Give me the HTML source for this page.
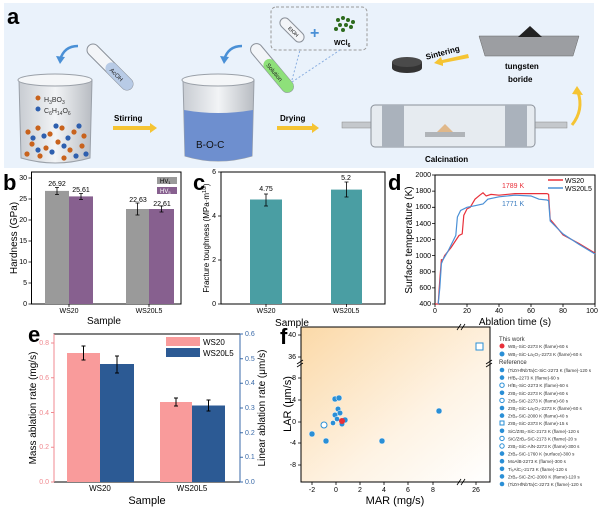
<!DOCTYPE html><html><head><meta charset="utf-8"><style>body{margin:0;background:#fff}svg{display:block;font-family:"Liberation Sans",sans-serif}</style></head><body>
<svg width="600" height="510" viewBox="0 0 600 510" xmlns="http://www.w3.org/2000/svg">
<defs>
<linearGradient id="fg" x1="0" y1="0" x2="1" y2="1"><stop offset="0" stop-color="#fbd9a8"/><stop offset="0.6" stop-color="#fef3e4"/><stop offset="1" stop-color="#fff"/></linearGradient>
<linearGradient id="gl" x1="0" x2="1"><stop offset="0" stop-color="#c8ccd2"/><stop offset="0.5" stop-color="#f2f4f6"/><stop offset="1" stop-color="#b8bcc2"/></linearGradient>
</defs>
<!-- panel a -->
<rect x="4" y="3" width="590" height="165" fill="#eaf2fb"/>
<text x="7" y="24" font-size="22" font-weight="bold">a</text>
<!-- beaker 1 -->
<path d="M19 80 L92 80 L90 158 Q55 168 21 158 Z" fill="url(#gl)" stroke="#9aa0a8"/>
<ellipse cx="55" cy="80" rx="37" ry="6" fill="#f4f6f8" stroke="#9aa0a8"/>
<g fill="#c8621c"><circle cx="28" cy="132" r="2.6"/><circle cx="38" cy="128" r="2.6"/><circle cx="50" cy="134" r="2.6"/><circle cx="62" cy="128" r="2.6"/><circle cx="74" cy="132" r="2.6"/><circle cx="84" cy="136" r="2.6"/><circle cx="32" cy="144" r="2.6"/><circle cx="46" cy="148" r="2.6"/><circle cx="58" cy="142" r="2.6"/><circle cx="70" cy="150" r="2.6"/><circle cx="82" cy="146" r="2.6"/><circle cx="40" cy="156" r="2.6"/><circle cx="64" cy="158" r="2.6"/><circle cx="27" cy="154" r="2.6"/></g>
<g fill="#2e5fae"><circle cx="33" cy="138" r="2.6"/><circle cx="44" cy="136" r="2.6"/><circle cx="56" cy="126" r="2.6"/><circle cx="68" cy="138" r="2.6"/><circle cx="79" cy="126" r="2.6"/><circle cx="52" cy="152" r="2.6"/><circle cx="64" cy="146" r="2.6"/><circle cx="76" cy="156" r="2.6"/><circle cx="38" cy="150" r="2.6"/><circle cx="86" cy="154" r="2.6"/></g>
<circle cx="38" cy="98" r="2.5" fill="#c8621c"/><text x="44" y="102" font-size="7" fill="#333">H<tspan font-size="5" dy="2">3</tspan><tspan dy="-2">BO</tspan><tspan font-size="5" dy="2">3</tspan></text>
<circle cx="38" cy="109" r="2.5" fill="#2e5fae"/><text x="44" y="113" font-size="7" fill="#333">C<tspan font-size="5" dy="2">6</tspan><tspan dy="-2">H</tspan><tspan font-size="5" dy="2">14</tspan><tspan dy="-2">O</tspan><tspan font-size="5" dy="2">6</tspan></text>
<path d="M78 46 Q64 46 60 60" fill="none" stroke="#4a90d6" stroke-width="2.5"/><path d="M56 56 L60 64 L65 57 Z" fill="#4a90d6"/>
<g transform="translate(110,67) rotate(45)"><rect x="-30" y="-6" width="60" height="12" rx="6" fill="#f3f5f8" stroke="#8a9099"/><rect x="-4" y="-6" width="34" height="12" rx="6" fill="#b8cbe6"/><text x="2" y="3" font-size="6" fill="#222">AcOH</text></g>
<text x="114" y="121" font-size="8" font-weight="bold">Stirring</text>
<path d="M113 126 L150 126 L150 123 L157 128 L150 133 L150 130 L113 130 Z" fill="#f5c433"/>
<!-- beaker 2 -->
<path d="M183 80 L254 80 L252 156 Q218 166 185 156 Z" fill="url(#gl)" stroke="#9aa0a8"/>
<path d="M184 110 Q218 116 253 110 L252 156 Q218 166 185 156 Z" fill="#6e8fcf"/>
<ellipse cx="218" cy="80" rx="36" ry="6" fill="#f4f6f8" stroke="#9aa0a8"/>
<text x="196" y="148" font-size="10" fill="#111">B-O-C</text>
<path d="M242 46 Q228 46 224 60" fill="none" stroke="#4a90d6" stroke-width="2.5"/><path d="M220 56 L224 64 L229 57 Z" fill="#4a90d6"/>
<g transform="translate(272,68) rotate(50)"><rect x="-30" y="-6" width="60" height="12" rx="6" fill="#f3f5f8" stroke="#8a9099"/><rect x="-10" y="-6" width="40" height="12" rx="6" fill="#8ee07a"/><text x="-6" y="3" font-size="6" fill="#222">Solution</text></g>
<rect x="271" y="7" width="96" height="43" rx="5" fill="none" stroke="#999" stroke-dasharray="3,2"/>
<line x1="292" y1="80" x2="300" y2="50" stroke="#8aaee0" stroke-dasharray="2,2"/><line x1="292" y1="82" x2="340" y2="50" stroke="#8aaee0" stroke-dasharray="2,2"/>
<g transform="translate(292,30) rotate(45)"><rect x="-15" y="-5" width="30" height="10" rx="5" fill="#f3f5f8" stroke="#8a9099"/><text x="-4" y="2" font-size="5">EtOH</text></g>
<text x="310" y="38" font-size="16" font-weight="bold" fill="#4a90d6">+</text>
<g fill="#2e6b1e"><circle cx="338" cy="20" r="2"/><circle cx="343" cy="18" r="2"/><circle cx="348" cy="20" r="2"/><circle cx="353" cy="22" r="2"/><circle cx="340" cy="25" r="2"/><circle cx="346" cy="25" r="2"/><circle cx="351" cy="27" r="2"/><circle cx="336" cy="29" r="2"/><circle cx="343" cy="30" r="2"/></g>
<text x="334" y="45" font-size="7" font-weight="bold">WCl<tspan font-size="5" dy="2">6</tspan></text>
<text x="280" y="121" font-size="8" font-weight="bold">Drying</text>
<path d="M277 126 L312 126 L312 123 L319 128 L312 133 L312 130 L277 130 Z" fill="#f5c433"/>
<!-- furnace -->
<rect x="342" y="122" width="225" height="6" fill="#c4c8cc" stroke="#888" stroke-width="0.5"/>
<rect x="371" y="105" width="164" height="42" rx="4" fill="#e6ebf0" stroke="#8a9099"/>
<rect x="382" y="105" width="22" height="42" fill="#aab2bc"/><rect x="505" y="105" width="22" height="42" fill="#aab2bc"/>
<rect x="425" y="132" width="40" height="5" fill="#b0b4b8"/><path d="M437 132 L445 124 L453 132 Z" fill="#e0b88a"/>
<text x="425" y="162" font-size="8" font-weight="bold">Calcination</text>
<path d="M479 36 L579 36 L573 56 L485 56 Z" fill="#9c9ea2" stroke="#666" stroke-width="0.5"/><path d="M518 37 L530 26 L542 37 Z" fill="#222"/>
<text x="505" y="69" font-size="8" font-weight="bold">tungsten</text><text x="508" y="82" font-size="8" font-weight="bold">boride</text>
<text x="425" y="56" font-size="8" font-weight="bold" transform="rotate(-15 440 52)">Sintering</text>
<path d="M468 54 L442 60 L441 57 L434 63 L443 66 L443 63 L469 58 Z" fill="#f5c433"/>
<ellipse cx="407" cy="68" rx="15" ry="5" fill="#333"/><rect x="392" y="62" width="30" height="6" fill="#333"/><ellipse cx="407" cy="62" rx="15" ry="5" fill="#4a4a4a"/>
<path d="M572 125 Q584 110 578 92" fill="none" stroke="#f5c433" stroke-width="3"/><path d="M572 94 L577 86 L583 95 Z" fill="#f5c433"/>
<!-- panel b -->
<text x="3" y="190" font-size="22" font-weight="bold">b</text>
<rect x="31.5" y="172" width="149.5" height="132" fill="none" stroke="#000"/>
<rect x="45" y="190.9" width="24" height="113.1" fill="#9a9a9a"/><rect x="69" y="196.4" width="24" height="107.6" fill="#87608f"/>
<rect x="126" y="209" width="23" height="95" fill="#9a9a9a"/><rect x="149" y="209" width="25" height="95" fill="#87608f"/>
<g stroke="#000" stroke-width="0.8"><path d="M57 187.5V194.5M55 187.5H59M55 194.5H59M81 193.5V199.5M79 193.5H83M79 199.5H83M137.5 203V215M135.5 203H139.5M135.5 215H139.5M161.5 206V212M159.5 206H163.5M159.5 212H163.5"/>
<path d="M31.5 304h-3M31.5 283h-3M31.5 262h-3M31.5 241h-3M31.5 220h-3M31.5 199h-3M31.5 178h-3M69 304v3M149 304v3"/></g>
<g font-size="7" text-anchor="end"><text x="27" y="306">0</text><text x="27" y="285">5</text><text x="27" y="264">10</text><text x="27" y="243">15</text><text x="27" y="222">20</text><text x="27" y="201">25</text><text x="27" y="180">30</text></g>
<g font-size="7" text-anchor="middle"><text x="57" y="186">26.92</text><text x="81" y="192">25.61</text><text x="138" y="202">22.63</text><text x="162" y="206">22.61</text><text x="69" y="313">WS20</text><text x="149" y="313">WS20L5</text></g>
<text x="104" y="324" font-size="10" text-anchor="middle">Sample</text>
<text transform="translate(17,238) rotate(-90)" font-size="10" text-anchor="middle">Hardness (GPa)</text>
<rect x="157" y="177" width="20" height="7" fill="#9a9a9a"/><rect x="157" y="187" width="20" height="7" fill="#87608f"/>
<text x="160" y="183" font-size="6">HV<tspan font-size="4" dy="1">1</tspan></text><text x="160" y="193" font-size="6" fill="#fff">HV<tspan font-size="4" dy="1">5</tspan></text>
<!-- panel c -->
<text x="193" y="190" font-size="22" font-weight="bold">c</text>
<rect x="221" y="172" width="164" height="132" fill="none" stroke="#000"/>
<rect x="250" y="199.5" width="32" height="104.5" fill="#4a9ea3"/><rect x="331" y="189.6" width="31" height="114.4" fill="#4a9ea3"/>
<g stroke="#000" stroke-width="0.8"><path d="M266 194V206M264 194H268M264 206H268M346.5 182V197M344.5 182H348.5M344.5 197H348.5M221 304h-3M221 260h-3M221 216h-3M221 172h-3M266 304v3M346.5 304v3"/></g>
<g font-size="7" text-anchor="end"><text x="216" y="306">0</text><text x="216" y="262">2</text><text x="216" y="218">4</text><text x="216" y="174">6</text></g>
<g font-size="7" text-anchor="middle"><text x="266" y="191">4.75</text><text x="346" y="180">5.2</text><text x="266" y="313">WS20</text><text x="346" y="313">WS20L5</text></g>
<text x="292" y="326" font-size="10" text-anchor="middle">Sample</text>
<text transform="translate(209,238) rotate(-90)" font-size="8" text-anchor="middle">Fracture toughness (MPa·m<tspan font-size="5" dy="-3">1/2</tspan><tspan dy="3">)</tspan></text>
<!-- panel d -->
<text x="388" y="190" font-size="22" font-weight="bold">d</text>
<rect x="435" y="175" width="160" height="129" fill="none" stroke="#000"/>
<polyline fill="none" stroke="#e8303a" stroke-width="1.2" points="435,304 438.2,304 439.8,279.8 441.4,259.7 443,259.7 444.6,255.6 451,247.6 459,235.5 462.2,233.9 463.8,215.3 467,208.9 470.2,207.3 475,199.2 479.8,195.2 483,192.8 486.2,196 491,194.4 499,195.2 515,193.6 547,193.6 548.6,194.4 550.2,219.4 555,225 563,234.9 579,243.5 595,253.2"/>
<polyline fill="none" stroke="#4a90d6" stroke-width="1.2" points="438.2,304 439.8,287.9 441.4,263.7 443,259.7 447.8,251.6 455.8,235.5 457.4,217 460.6,210.5 467,207.3 475,205.7 483,204 487.8,199.2 499,196.8 515,195.2 531,196 539,199.2 547,200 548.6,200.8 550.2,221 563,233.9 579,244.4 595,254"/>
<g stroke="#000" stroke-width="0.8"><path d="M435 304h-3M435 287.9h-3M435 271.8h-3M435 255.6h-3M435 239.5h-3M435 223.4h-3M435 207.3h-3M435 191.1h-3M435 175h-3M435 304v3M467 304v3M499 304v3M531 304v3M563 304v3M595 304v3"/></g>
<g font-size="7" text-anchor="end"><text x="431" y="306">400</text><text x="431" y="290">600</text><text x="431" y="274">800</text><text x="431" y="258">1000</text><text x="431" y="242">1200</text><text x="431" y="226">1400</text><text x="431" y="209">1600</text><text x="431" y="193">1800</text><text x="431" y="177">2000</text></g>
<g font-size="7" text-anchor="middle"><text x="435" y="313">0</text><text x="467" y="313">20</text><text x="499" y="313">40</text><text x="531" y="313">60</text><text x="563" y="313">80</text><text x="592" y="313">100</text></g>
<text x="515" y="325" font-size="10" text-anchor="middle">Ablation time (s)</text>
<text transform="translate(412,240) rotate(-90)" font-size="10" text-anchor="middle">Surface temperature (K)</text>
<line x1="548" y1="180" x2="563" y2="180" stroke="#e8303a" stroke-width="1.5"/><line x1="548" y1="188" x2="563" y2="188" stroke="#4a90d6" stroke-width="1.5"/>
<text x="565" y="183" font-size="7">WS20</text><text x="565" y="191" font-size="7">WS20L5</text>
<text x="502" y="188" font-size="7" fill="#e8303a">1789 K</text><text x="502" y="206" font-size="7" fill="#3a7cc0">1771 K</text>
<!-- panel e -->
<text x="28" y="342" font-size="22" font-weight="bold">e</text>
<rect x="54" y="334" width="186" height="148" fill="none" stroke="#000"/>
<line x1="54" y1="334" x2="54" y2="482" stroke="#f08a90"/><line x1="240" y1="334" x2="240" y2="482" stroke="#3a6aa8"/>
<rect x="67" y="353" width="33" height="129" fill="#f99b9b"/><rect x="100" y="364" width="34" height="118" fill="#2c5a94"/>
<rect x="160" y="402" width="32" height="80" fill="#f99b9b"/><rect x="192" y="405.5" width="33" height="76.5" fill="#2c5a94"/>
<g stroke="#000" stroke-width="1"><path d="M83.5 346V360M81.5 346H85.5M81.5 360H85.5M117 356V373M115 356H119M115 373H119M176 398V406M174 398H178M174 406H178M208.5 400V411M206.5 400H210.5M206.5 411H210.5"/></g>
<g stroke="#f08a90"><path d="M54 482h-3M54 447.25h-3M54 412.5h-3M54 377.75h-3M54 343h-3"/></g>
<g stroke="#3a6aa8"><path d="M240 482h3M240 457.3h3M240 432.7h3M240 408h3M240 383.3h3M240 358.7h3M240 334h3"/></g>
<g font-size="7" text-anchor="end" fill="#f08a90"><text x="49" y="484">0.0</text><text x="49" y="449">0.2</text><text x="49" y="415">0.4</text><text x="49" y="380">0.6</text><text x="49" y="345">0.8</text></g>
<g font-size="7" fill="#3a6aa8"><text x="245" y="484">0.0</text><text x="245" y="459">0.1</text><text x="245" y="435">0.2</text><text x="245" y="410">0.3</text><text x="245" y="385">0.4</text><text x="245" y="361">0.5</text><text x="245" y="336">0.6</text></g>
<g font-size="8" text-anchor="middle"><text x="100" y="491">WS20</text><text x="192" y="491">WS20L5</text></g>
<text x="147" y="504" font-size="11" text-anchor="middle">Sample</text>
<text transform="translate(36,408) rotate(-90)" font-size="10" text-anchor="middle">Mass ablation rate (mg/s)</text>
<text transform="translate(265,408) rotate(-90)" font-size="10" text-anchor="middle">Linear ablation rate (μm/s)</text>
<rect x="166" y="337" width="34" height="9" fill="#f99b9b"/><rect x="166" y="348" width="34" height="9" fill="#2c5a94"/>
<text x="203" y="345" font-size="8">WS20</text><text x="203" y="356" font-size="8">WS20L5</text>
<!-- panel f -->
<text x="280" y="344" font-size="22" font-weight="bold">f</text>
<rect x="301" y="327" width="189" height="155" fill="url(#fg)" stroke="#000"/>
<g stroke="#000" stroke-width="0.8"><path d="M301 335h-3M301 357h-3M301 378h-3M301 400h-3M301 422h-3M301 443h-3M301 465h-3M312 482v3M336 482v3M360 482v3M384 482v3M408 482v3M433 482v3M476 482v3"/>
<path d="M297 364l6-4M297 367l6-4M486 364l6-4M486 367l6-4M457 485l4-6M461 485l4-6M457 330l4-6M461 330l4-6"/></g>
<g font-size="7" text-anchor="end"><text x="296" y="337">40</text><text x="296" y="359">36</text><text x="296" y="380">8</text><text x="296" y="402">4</text><text x="296" y="424">0</text><text x="296" y="445">-4</text><text x="296" y="467">-8</text></g>
<g font-size="7" text-anchor="middle"><text x="312" y="492">-2</text><text x="336" y="492">0</text><text x="360" y="492">2</text><text x="384" y="492">4</text><text x="408" y="492">6</text><text x="433" y="492">8</text><text x="476" y="492">26</text></g>
<text x="395" y="504" font-size="11" text-anchor="middle">MAR (mg/s)</text>
<text transform="translate(291,404) rotate(-90)" font-size="11" text-anchor="middle">LAR (μm/s)</text>
<g fill="#2a8fd6" stroke="#fff" stroke-width="0.5"><circle cx="312" cy="434" r="3"/><circle cx="326" cy="441" r="3"/><circle cx="382" cy="441" r="3"/><circle cx="439" cy="411" r="3"/><circle cx="335" cy="399" r="3"/><circle cx="339" cy="398" r="3"/><circle cx="338" cy="409" r="2.8"/><circle cx="340" cy="413" r="2.8"/><circle cx="335" cy="415" r="2.8"/><circle cx="345" cy="420" r="3"/><circle cx="342" cy="424" r="2.8"/><circle cx="333" cy="423" r="2.6"/><circle cx="337" cy="419" r="2.6"/></g>
<circle cx="324" cy="425" r="3" fill="#fff" stroke="#2a8fd6"/>
<circle cx="342" cy="421" r="3" fill="#e8303a"/>
<rect x="476" y="343" width="7" height="7" fill="#fff" stroke="#2a8fd6"/>
<g font-size="4.6" fill="#333"><text x="499" y="341" font-size="6">This work</text>
<text x="508" y="348">WB₂-SiC-2273 K (flame)-60 s</text><text x="508" y="356">WB₂-SiC-La₂O₃-2273 K (flame)-60 s</text>
<text x="499" y="364" font-size="6">Reference</text>
<text x="508" y="372">(TiZrHfNbTa)C-SiC-2273 K (flame)-120 s</text><text x="508" y="379.6">HfB₂-2273 K (flame)-60 s</text><text x="508" y="387.2">HfB₂-SiC-2273 K (flame)-60 s</text><text x="508" y="394.8">ZrB₂-SiC-2273 K (flame)-60 s</text><text x="508" y="402.4">ZrB₂-SiC-2273 K (flame)-60 s</text><text x="508" y="410">ZrB₂-SiC-La₂O₃-2273 K (flame)-60 s</text><text x="508" y="417.6">ZrB₂-SiC-2000 K (flame)-40 s</text><text x="508" y="425.2">ZrB₂-SiC-2373 K (flame)-15 s</text><text x="508" y="432.8">SiC/ZrB₂-SiC-2173 K (flame)-120 s</text><text x="508" y="440.4">SiC/ZrB₂-SiC-2173 K (flame)-20 s</text><text x="508" y="448">ZrB₂-SiC-AlN-2273 K (flame)-300 s</text><text x="508" y="455.6">ZrB₂-SiC-1760 K (surface)-300 s</text><text x="508" y="463.2">MoAlB-2273 K (flame)-300 s</text><text x="508" y="470.8">Ti₃AlC₂-2173 K (flame)-120 s</text><text x="508" y="478.4">ZrB₂-SiC-ZrC-2000 K (flame)-120 s</text><text x="508" y="486">(TiZrHfNbTa)C-2273 K (flame)-120 s</text></g>
<circle cx="502" cy="346" r="2.5" fill="#e8303a"/><circle cx="502" cy="354" r="2.5" fill="#2a8fd6"/>
<g fill="#2a8fd6"><circle cx="502" cy="370" r="2.3"/><circle cx="502" cy="377.6" r="2.3"/><circle cx="502" cy="392.8" r="2.3"/><circle cx="502" cy="408" r="2.3"/><circle cx="502" cy="415.6" r="2.3"/><circle cx="502" cy="430.8" r="2.3"/><circle cx="502" cy="453.6" r="2.3"/><circle cx="502" cy="461.2" r="2.3"/><circle cx="502" cy="468.8" r="2.3"/><circle cx="502" cy="476.4" r="2.3"/><circle cx="502" cy="484" r="2.3"/></g>
<g fill="none" stroke="#2a8fd6"><circle cx="502" cy="385.2" r="2.2"/><circle cx="502" cy="400.4" r="2.2"/><rect x="500" y="421" width="4" height="4"/><circle cx="502" cy="438.4" r="2.2"/><circle cx="502" cy="446" r="2.2"/></g>
</svg>
</body></html>
